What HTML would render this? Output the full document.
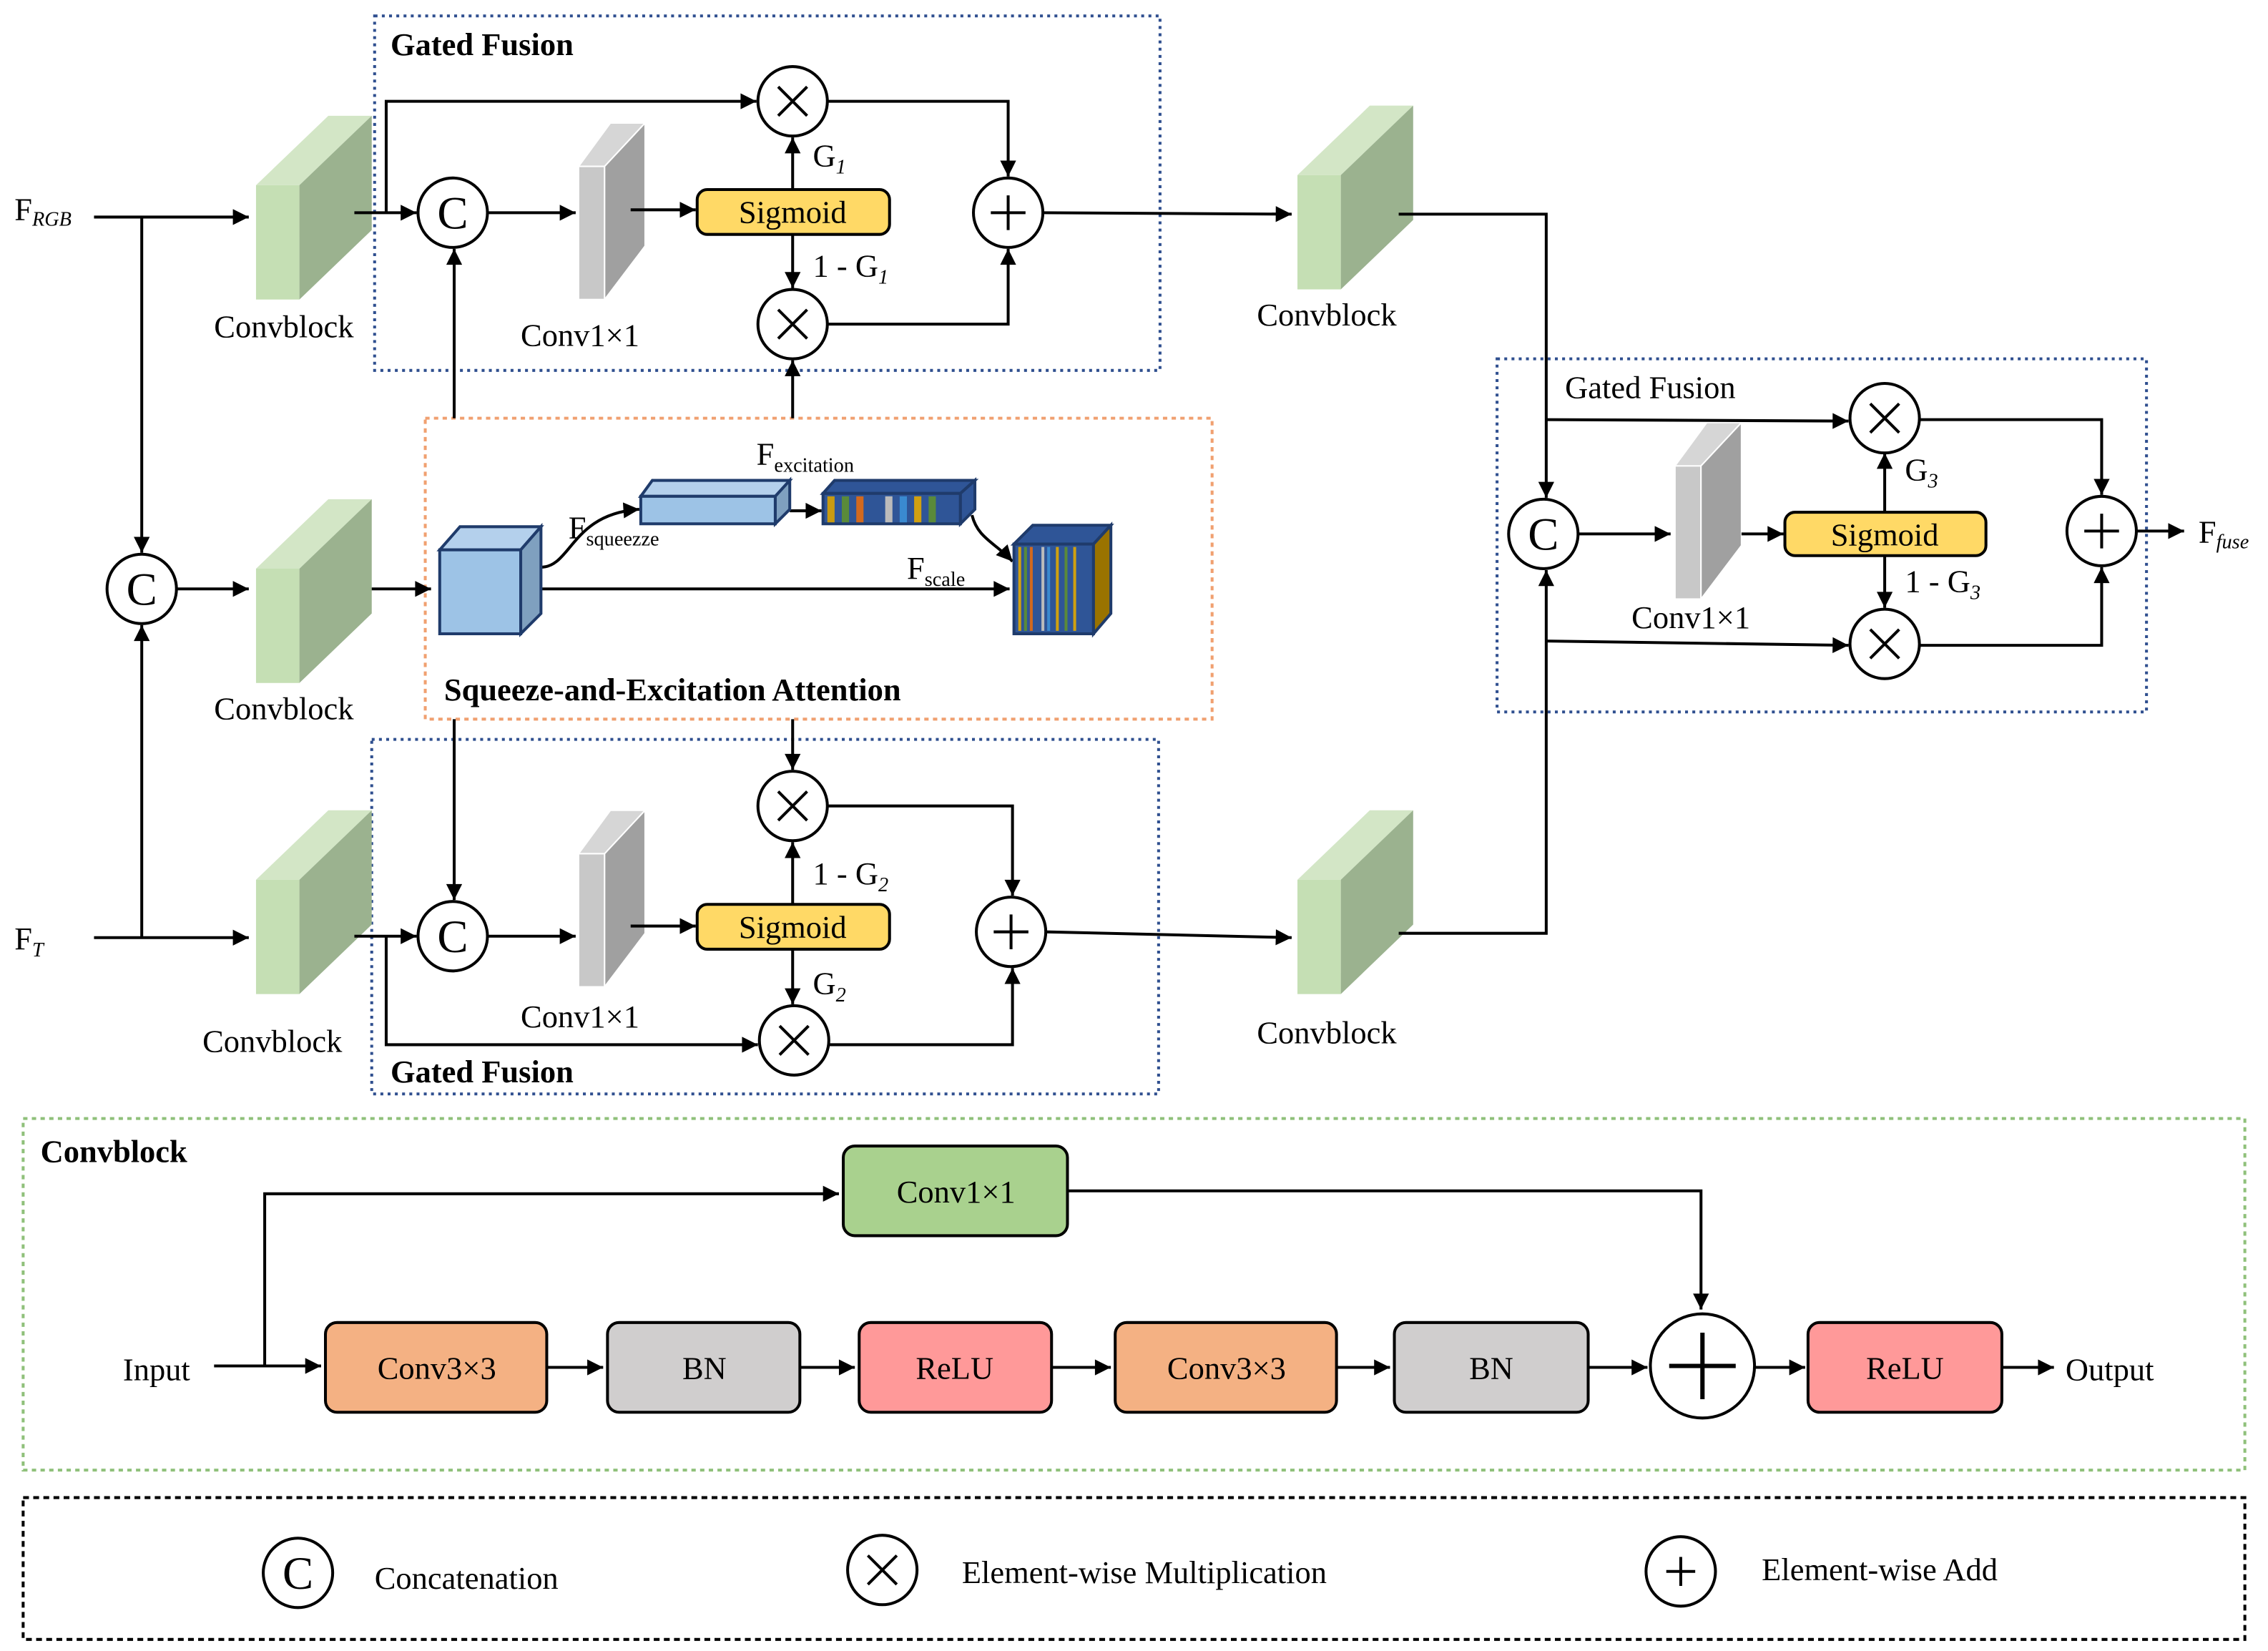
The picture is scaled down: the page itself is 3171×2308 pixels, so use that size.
<!DOCTYPE html>
<html><head><meta charset="utf-8"><style>html,body{margin:0;padding:0;background:#fff}svg{display:block}</style></head>
<body>
<svg width="3171" height="2308" viewBox="0 0 1568 1141" preserveAspectRatio="none" xmlns="http://www.w3.org/2000/svg" font-family="'Liberation Serif',serif">
<defs>
<marker id="a" viewBox="0 0 10 10" refX="10" refY="5" markerWidth="13" markerHeight="11" markerUnits="userSpaceOnUse" orient="auto"><path d="M0,0 L10,5 L0,10z" fill="#000"/></marker>
<g id="cb"><path d="M0,48 L50,0 L80,0 L30,48z" fill="#d3e6c6"/><rect x="0" y="48" width="30" height="79" fill="#c5dfb4"/><path d="M30,48 L80,0 L80,79 L30,127z" fill="#9bb28f"/></g>
<g id="c1"><path d="M0,30 L22,0 L46,0 L18,30z" fill="#d6d6d6" stroke="#fff"/><rect x="0" y="30" width="18" height="92" fill="#c8c8c8" stroke="#fff"/><path d="M18,30 L46,0 L46,85 L18,122z" fill="#a0a0a0" stroke="#fff"/></g>
</defs>
<g fill="none" stroke-width="2">
<rect x="259" y="11" width="543" height="245" stroke="#2f4f8f" stroke-dasharray="2,3"/>
<rect x="294" y="289" width="544" height="208" stroke="#f0a070" stroke-dasharray="3,3"/>
<rect x="257" y="511" width="544" height="245" stroke="#2f4f8f" stroke-dasharray="2,3"/>
<rect x="1035" y="248" width="449" height="244" stroke="#2f4f8f" stroke-dasharray="2,3"/>
<rect x="16" y="773" width="1536" height="243" stroke="#8fc07a" stroke-dasharray="3,3"/>
<rect x="16" y="1035" width="1536" height="98" stroke="#000" stroke-dasharray="4,3"/>
</g>
<use href="#cb" x="177" y="80"/><use href="#cb" x="177" y="345"/><use href="#cb" x="177" y="560"/>
<use href="#cb" x="897" y="73"/><use href="#cb" x="897" y="560"/>
<use href="#c1" x="400" y="85"/><use href="#c1" x="400" y="560"/><use href="#c1" x="1158" y="292"/>
<g stroke="#000" stroke-width="2" fill="none">
<path d="M65,150 H172" marker-end="url(#a)"/><path d="M98,150 V382" marker-end="url(#a)"/>
<path d="M65,648 H172" marker-end="url(#a)"/><path d="M98,648 V432" marker-end="url(#a)"/>
<path d="M122,407 H172" marker-end="url(#a)"/>
<path d="M257,407 H298" marker-end="url(#a)"/>
<path d="M245,147 H288" marker-end="url(#a)"/>
<path d="M267,147 V70 H523" marker-end="url(#a)"/>
<path d="M337,147 H398" marker-end="url(#a)"/>
<path d="M436,145 H481" marker-end="url(#a)"/>
<path d="M548,131 V95" marker-end="url(#a)"/><path d="M548,162 V199" marker-end="url(#a)"/>
<path d="M572,70 H697 V122" marker-end="url(#a)"/>
<path d="M572,224 H697 V172" marker-end="url(#a)"/>
<path d="M721,147 L893,148" marker-end="url(#a)"/>
<path d="M314,289 V172" marker-end="url(#a)"/>
<path d="M548,289 V249" marker-end="url(#a)"/>
<path d="M314,497 V622" marker-end="url(#a)"/>
<path d="M548,497 V532" marker-end="url(#a)"/>
<path d="M245,647 H288" marker-end="url(#a)"/>
<path d="M267,647 V722 H524" marker-end="url(#a)"/>
<path d="M337,647 H398" marker-end="url(#a)"/>
<path d="M436,640 H481" marker-end="url(#a)"/>
<path d="M548,625 V582" marker-end="url(#a)"/><path d="M548,656 V694" marker-end="url(#a)"/>
<path d="M572,557 H700 V619" marker-end="url(#a)"/>
<path d="M573,722 H700 V669" marker-end="url(#a)"/>
<path d="M723,644 L893,648" marker-end="url(#a)"/>
<path d="M967,148 H1069 V344" marker-end="url(#a)"/>
<path d="M967,645 H1069 V394" marker-end="url(#a)"/>
<path d="M1069,290 L1278,291" marker-end="url(#a)"/>
<path d="M1069,443 L1278,446" marker-end="url(#a)"/>
<path d="M1091,369 H1155" marker-end="url(#a)"/>
<path d="M1204,369 H1233" marker-end="url(#a)"/>
<path d="M1303,354 V313" marker-end="url(#a)"/><path d="M1303,384 V420" marker-end="url(#a)"/>
<path d="M1327,290 H1453 V342" marker-end="url(#a)"/>
<path d="M1327,446 H1453 V392" marker-end="url(#a)"/>
<path d="M1477,367 H1510" marker-end="url(#a)"/>
<path d="M374,392 C395,392 395,355 442,352" marker-end="url(#a)"/>
<path d="M546,353 H568" marker-end="url(#a)"/>
<path d="M672,356 C676,372 688,375 700,388" marker-end="url(#a)"/>
<path d="M374,407 H698" marker-end="url(#a)"/>
<path d="M148,944 H222" marker-end="url(#a)"/>
<path d="M183,944 V825 H580" marker-end="url(#a)"/>
<path d="M738,823 H1176 V905" marker-end="url(#a)"/>
<path d="M378,945 H417" marker-end="url(#a)"/><path d="M553,945 H591" marker-end="url(#a)"/>
<path d="M727,945 H768" marker-end="url(#a)"/><path d="M924,945 H961" marker-end="url(#a)"/>
<path d="M1098,945 H1139" marker-end="url(#a)"/><path d="M1213,945 H1248" marker-end="url(#a)"/>
<path d="M1384,945 H1420" marker-end="url(#a)"/>
</g>
<g stroke="#1f3b6b" stroke-width="2">
<path d="M304,380 L318,364 L374,364 L360,380z" fill="#b4d0ec"/><rect x="304" y="380" width="56" height="58" fill="#9dc3e6"/><path d="M360,380 L374,364 L374,424 L360,438z" fill="#7fa0bf"/>
<path d="M443,343 L451,332 L546,332 L536,343z" fill="#b4d0ec"/><rect x="443" y="343" width="93" height="19" fill="#9dc3e6"/><path d="M536,343 L546,332 L546,352 L536,362z" fill="#7fa0bf"/>
<path d="M569,341 L577,332 L674,332 L664,341z" fill="#2f5597"/><rect x="569" y="341" width="95" height="21" fill="#2f5597"/><path d="M664,341 L674,332 L674,352 L664,362z" fill="#2f5597"/>
<path d="M701,376 L714,363 L768,363 L756,376z" fill="#2f5597"/><rect x="701" y="376" width="55" height="62" fill="#2f5597"/><path d="M756,376 L768,363 L768,424 L756,438z" fill="#9a7300"/>
</g>
<g stroke="none">
<rect x="572" y="343" width="5" height="18" fill="#c89a10"/><rect x="582" y="343" width="5" height="18" fill="#5a8a3a"/><rect x="592" y="343" width="5" height="18" fill="#d2691e"/><rect x="612" y="343" width="5" height="18" fill="#bbb"/><rect x="622" y="343" width="5" height="18" fill="#3a8ad0"/><rect x="632" y="343" width="5" height="18" fill="#d0a010"/><rect x="642" y="343" width="5" height="18" fill="#5a8a3a"/>
<rect x="704" y="378" width="2" height="58" fill="#d0a010"/><rect x="708" y="378" width="2" height="58" fill="#5a8a3a"/><rect x="712" y="378" width="2" height="58" fill="#d2691e"/><rect x="720" y="378" width="2" height="58" fill="#bbb"/><rect x="724" y="378" width="2" height="58" fill="#3a8ad0"/><rect x="730" y="378" width="2" height="58" fill="#d0a010"/><rect x="736" y="378" width="2" height="58" fill="#5a8a3a"/><rect x="742" y="378" width="2" height="58" fill="#d0a010"/>
</g>
<g stroke="#000" stroke-width="2" fill="#ffd966">
<rect x="482" y="131" width="133" height="31" rx="7"/><rect x="482" y="625" width="133" height="31" rx="7"/><rect x="1234" y="354" width="139" height="30" rx="7"/>
</g>
<g font-size="22" text-anchor="middle"><text x="548" y="154">Sigmoid</text><text x="548" y="648">Sigmoid</text><text x="1303" y="377">Sigmoid</text></g>
<g stroke="#000" stroke-width="2">
<rect x="583" y="792" width="155" height="62" rx="8" fill="#a9d18e"/>
<rect x="225" y="914" width="153" height="62" rx="8" fill="#f4b183"/>
<rect x="420" y="914" width="133" height="62" rx="8" fill="#d0cece"/>
<rect x="594" y="914" width="133" height="62" rx="8" fill="#ff9999"/>
<rect x="771" y="914" width="153" height="62" rx="8" fill="#f4b183"/>
<rect x="964" y="914" width="134" height="62" rx="8" fill="#d0cece"/>
<rect x="1250" y="914" width="134" height="62" rx="8" fill="#ff9999"/>
</g>
<g font-size="22" text-anchor="middle">
<text x="661" y="831">Conv1×1</text><text x="302" y="953">Conv3×3</text><text x="487" y="953">BN</text><text x="660" y="953">ReLU</text><text x="848" y="953">Conv3×3</text><text x="1031" y="953">BN</text><text x="1317" y="953">ReLU</text>
</g>
<g stroke="#000" stroke-width="2" fill="#fff">
<circle cx="313" cy="147" r="24"/><circle cx="548" cy="70" r="24"/><circle cx="548" cy="224" r="24"/><circle cx="697" cy="147" r="24"/>
<circle cx="98" cy="407" r="24"/>
<circle cx="313" cy="647" r="24"/><circle cx="548" cy="557" r="24"/><circle cx="549" cy="719" r="24"/><circle cx="699" cy="644" r="24"/>
<circle cx="1067" cy="369" r="24"/><circle cx="1303" cy="289" r="24"/><circle cx="1303" cy="445" r="24"/><circle cx="1453" cy="367" r="24"/>
<circle cx="1177" cy="944" r="36"/>
<circle cx="206" cy="1087" r="24"/><circle cx="610" cy="1085" r="24"/><circle cx="1162" cy="1086" r="24"/>
</g>
<g stroke="#000" stroke-width="2">
<path d="M538,60 l20,20 M558,60 l-20,20 M538,214 l20,20 M558,214 l-20,20 M538,547 l20,20 M558,547 l-20,20 M539,709 l20,20 M559,709 l-20,20 M1293,279 l20,20 M1313,279 l-20,20 M1293,435 l20,20 M1313,435 l-20,20 M600,1075 l20,20 M620,1075 l-20,20"/>
<path d="M685,147 h24 M697,135 v24 M687,644 h24 M699,632 v24 M1441,367 h24 M1453,355 v24 M1152,1086 h20 M1162,1076 v20"/>
<path d="M1154,944 h46 M1177,921 v46" stroke-width="3"/>
</g>
<g font-size="32" text-anchor="middle"><text x="313" y="158">C</text><text x="98" y="418">C</text><text x="313" y="658">C</text><text x="1067" y="380">C</text><text x="206" y="1098">C</text></g>
<g font-size="22">
<text x="148" y="233">Convblock</text><text x="148" y="497">Convblock</text><text x="140" y="727">Convblock</text>
<text x="869" y="225">Convblock</text><text x="869" y="721">Convblock</text>
<text x="360" y="239">Conv1×1</text><text x="360" y="710">Conv1×1</text><text x="1128" y="434">Conv1×1</text>
<text x="270" y="38" font-weight="bold">Gated Fusion</text><text x="270" y="748" font-weight="bold">Gated Fusion</text><text x="1082" y="275">Gated Fusion</text>
<text x="307" y="484" font-weight="bold">Squeeze-and-Excitation Attention</text>
<text x="28" y="803" font-weight="bold">Convblock</text>
<text x="85" y="954">Input</text><text x="1428" y="954">Output</text>
<text x="259" y="1098">Concatenation</text><text x="665" y="1094">Element-wise Multiplication</text><text x="1218" y="1092">Element-wise Add</text>
<text x="10" y="152">F<tspan font-size="14" font-style="italic" dy="4">RGB</tspan></text>
<text x="10" y="656">F<tspan font-size="14" font-style="italic" dy="5">T</tspan></text>
<text x="1520" y="375">F<tspan font-size="14" font-style="italic" dy="4">fuse</tspan></text>
<text x="562" y="115">G<tspan font-size="14" font-style="italic" dy="5">1</tspan></text>
<text x="562" y="191">1 - G<tspan font-size="14" font-style="italic" dy="5">1</tspan></text>
<text x="562" y="611">1 - G<tspan font-size="14" font-style="italic" dy="5">2</tspan></text>
<text x="562" y="687">G<tspan font-size="14" font-style="italic" dy="5">2</tspan></text>
<text x="1317" y="332">G<tspan font-size="14" font-style="italic" dy="5">3</tspan></text>
<text x="1317" y="409">1 - G<tspan font-size="14" font-style="italic" dy="5">3</tspan></text>
<text x="523" y="321">F<tspan font-size="14" dy="5">excitation</tspan></text>
<text x="393" y="372">F<tspan font-size="14" dy="5">squeezze</tspan></text>
<text x="627" y="400">F<tspan font-size="14" dy="5">scale</tspan></text>
</g>
</svg>
</body></html>
